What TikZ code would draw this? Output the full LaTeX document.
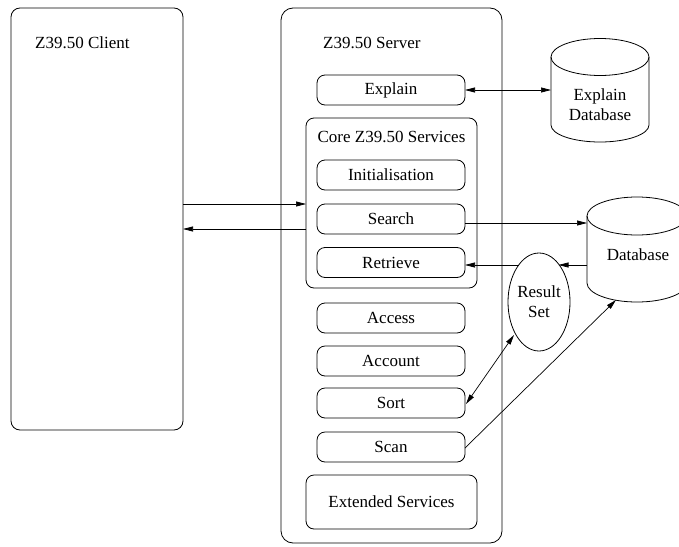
\documentclass[tikz,border=0pt]{standalone}
\usepackage{fontspec}
\setmainfont{Liberation Serif}
\usetikzlibrary{arrows.meta,shapes.geometric}
\begin{document}
\begin{tikzpicture}[x=1pt,y=-1pt,
  every node/.style={font=\fontsize{17}{20}\selectfont},
  bigbox/.style={draw,line width=0.8pt,rounded corners=9pt},
  svc/.style={draw,line width=0.8pt,rounded corners=8pt,minimum width=148pt,minimum height=30pt,inner sep=0pt,anchor=center},
  conn/.style={line width=0.7pt,-{Triangle[length=10pt,width=5pt]}},
  conn2/.style={line width=0.7pt,{Triangle[length=10pt,width=5pt]}-{Triangle[length=10pt,width=5pt]}},
  db/.style={line width=0.8pt}]
\useasboundingbox (0,0) rectangle (679,546);
% client and server
\node[bigbox,minimum width=172pt,minimum height=422pt,inner sep=0pt] (client) at (97,219) {};
\node[bigbox,minimum width=221pt,minimum height=535pt,inner sep=0pt,rounded corners=12pt] (server) at (391.5,275.5) {};
\node[anchor=west,inner sep=0pt] (clientlbl) at (35,43) {Z39.50 Client};
\node[anchor=west,inner sep=0pt] (serverlbl) at (323,43) {Z39.50 Server};
% services
\node[svc] (explain) at (391,90) {Explain};
\node[bigbox,minimum width=171pt,minimum height=170pt,inner sep=0pt,rounded corners=8pt] (core) at (391.5,203) {};
\node[inner sep=0pt] (corelbl) at (391.5,137) {Core Z39.50 Services};
\node[svc] (init) at (391,175) {Initialisation};
\node[svc] (search) at (391,219) {Search};
\node[svc] (retrieve) at (391,262.5) {Retrieve};
\node[svc] (access) at (391,318) {Access};
\node[svc] (account) at (391,361) {Account};
\node[svc] (sort) at (391,403) {Sort};
\node[svc] (scan) at (391,447) {Scan};
\node[svc,minimum width=171pt,minimum height=54pt] (ext) at (391.5,502) {Extended Services};
% Explain database cylinder
\draw[db] (551,57) -- (551,125) arc[start angle=180,end angle=0,x radius=49,y radius=17] -- (649,57);
\draw[db] (600,57) ellipse[x radius=49,y radius=18.5];
\node[align=center,inner sep=0pt] (explaindb) at (600,105) {Explain\\Database};
% Database cylinder
\draw[db] (587,216) -- (587,283) arc[start angle=180,end angle=0,x radius=50,y radius=19] -- (687,216);
\draw[db] (637,216) ellipse[x radius=50,y radius=19];
\node[inner sep=0pt] (database) at (638,255) {Database};
% Result set
\node[draw,line width=0.8pt,ellipse,minimum width=62pt,minimum height=98pt,inner sep=0pt,align=center] (result) at (539,302) {Result\\Set};
% connector end points
\coordinate (cl1) at (183,204);
\coordinate (co1) at (306,204);
\coordinate (cl2) at (183,229);
\coordinate (co2) at (306,229);
\coordinate (exR) at (465,90);
\coordinate (edbL) at (551,90);
\coordinate (seR) at (465,223);
\coordinate (dbL1) at (587,223);
\coordinate (reR) at (465,265);
\coordinate (dbL2) at (587,265);
\coordinate (rsR) at (558.5,265);
\coordinate (rsL) at (518.5,265);
\coordinate (soR) at (466,404);
\coordinate (rsB) at (514,335);
\coordinate (scR) at (465,448);
\coordinate (dbB) at (616,300);
% connectors
\draw[conn] (cl1) -- (co1);
\draw[conn] (co2) -- (cl2);
\draw[conn2] (exR) -- (edbL);
\draw[conn] (seR) -- (dbL1);
\draw[conn] (dbL2) -- (rsR);
\draw[conn] (rsL) -- (reR);
\draw[conn2] (soR) -- (rsB);
\draw[conn] (scR) -- (dbB);
\end{tikzpicture}
\end{document}
